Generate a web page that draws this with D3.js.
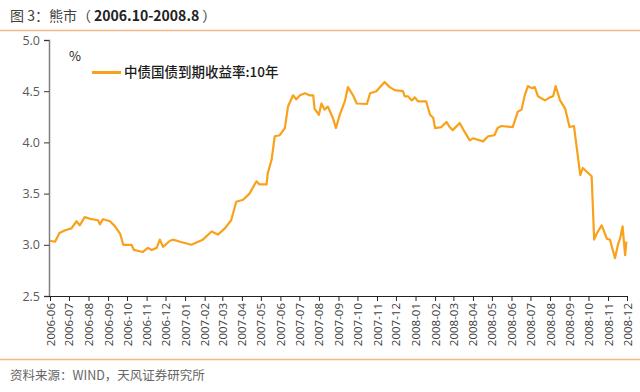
<!DOCTYPE html>
<html><head><meta charset="utf-8">
<script src="https://cdn.jsdelivr.net/npm/d3@7"></script>
<style>
html,body{margin:0;padding:0;background:#fff;}
svg{display:block;font-family:"Noto Sans CJK SC","Noto Sans",sans-serif;}
</style></head>
<body><svg id="c" width="640" height="392"></svg>
<script>
const titlePrefix = "图 3：熊市（ ";
const titleRange = "2006.10-2008.8";
const titleSuffix = " ）";
const sourceText = "资料来源：WIND，天风证券研究所";
const seriesName = "中债国债到期收益率:10年";
const unitLabel = "%";
const yTicks = [2.5, 3.0, 3.5, 4.0, 4.5, 5.0];
const dates = [
"2006-06-01","2006-06-09","2006-06-16","2006-06-24","2006-07-05","2006-07-13","2006-07-18","2006-07-26",
"2006-08-06","2006-08-16","2006-08-19","2006-08-24","2006-09-04","2006-09-12","2006-09-20","2006-09-25",
"2006-10-08","2006-10-12","2006-10-26","2006-11-03","2006-11-09","2006-11-17","2006-11-22","2006-11-27",
"2006-12-08","2006-12-13","2006-12-24","2007-01-11","2007-01-29","2007-02-12","2007-02-22","2007-03-05",
"2007-03-15","2007-03-23","2007-04-03","2007-04-13","2007-04-24","2007-04-29","2007-05-10","2007-05-12",
"2007-05-18","2007-05-23","2007-05-31","2007-06-08","2007-06-13","2007-06-21","2007-06-26","2007-07-02",
"2007-07-10","2007-07-17","2007-07-23","2007-07-25","2007-08-01","2007-08-05","2007-08-10","2007-08-15",
"2007-08-23","2007-08-28","2007-09-03","2007-09-11","2007-09-16","2007-09-24","2007-09-30","2007-10-16",
"2007-10-21","2007-10-31","2007-11-13","2007-11-21","2007-11-29","2007-12-12","2007-12-15","2007-12-20",
"2007-12-26","2007-12-31","2008-01-05","2008-01-18","2008-01-24","2008-01-29","2008-02-01","2008-02-11",
"2008-02-19","2008-02-24","2008-02-29","2008-03-11","2008-03-19","2008-03-27","2008-04-01","2008-04-17",
"2008-04-25","2008-05-05","2008-05-10","2008-05-16","2008-06-03","2008-06-11","2008-06-17","2008-06-22",
"2008-06-27","2008-07-03","2008-07-08","2008-07-13","2008-07-24","2008-08-01","2008-08-06","2008-08-10",
"2008-08-17","2008-08-25","2008-09-01","2008-09-08","2008-09-18","2008-09-22","2008-10-06","2008-10-10",
"2008-10-14","2008-10-22","2008-10-30","2008-11-04","2008-11-12","2008-11-17","2008-11-20","2008-11-24",
"2008-11-28","2008-11-30"];
const yields = [
3.04,3.03,3.115,3.14,3.16,3.23,3.19,3.27,
3.25,3.24,3.20,3.25,3.23,3.18,3.11,3.00,
3.00,2.95,2.93,2.97,2.95,2.97,3.05,2.98,
3.04,3.05,3.03,3.00,3.05,3.13,3.10,3.16,
3.24,3.42,3.44,3.50,3.62,3.59,3.59,3.70,
3.83,4.06,4.07,4.14,4.35,4.46,4.42,4.46,
4.48,4.46,4.46,4.33,4.27,4.38,4.32,4.35,
4.24,4.14,4.27,4.40,4.54,4.46,4.38,4.375,
4.48,4.50,4.59,4.54,4.51,4.50,4.45,4.45,
4.41,4.44,4.40,4.40,4.27,4.24,4.14,4.15,
4.20,4.15,4.12,4.19,4.10,4.02,4.04,4.01,
4.06,4.07,4.14,4.16,4.15,4.30,4.32,4.46,
4.55,4.53,4.54,4.45,4.41,4.44,4.45,4.55,
4.41,4.33,4.15,4.16,3.68,3.75,3.67,3.05,
3.11,3.19,3.06,3.05,2.87,3.01,3.06,3.18,
2.90,3.03];
const tickMonths = d3.timeMonths(new Date(2006,5,1), new Date(2008,11,2));

const svg = d3.select("#c");
const parse = d3.timeParse("%Y-%m-%d");
const data = dates.map((d,i)=>({d:parse(d), v:yields[i]}));

const L = 49, R = 627, T = 40, B = 296;
const x = d3.scaleTime().domain([new Date(2006,5,1), new Date(2008,11,1)]).range([L+1, R]);
const y = d3.scaleLinear().domain([2.5, 5.0]).range([B, T]);

// title
const tt = svg.append("text").attr("x",10).attr("y",21).attr("font-size",14).attr("fill","#404040");
tt.append("tspan").text(titlePrefix);
tt.append("tspan").attr("font-weight",600).attr("fill","#222").text(titleRange);
tt.append("tspan").text(titleSuffix);
svg.append("line").attr("x1",0).attr("x2",640).attr("y1",30.5).attr("y2",30.5).attr("stroke","#F2B889").attr("stroke-width",1.5);
svg.append("line").attr("x1",0).attr("x2",640).attr("y1",359.5).attr("y2",359.5).attr("stroke","#F2B889").attr("stroke-width",1.5);
svg.append("text").attr("x",10).attr("y",380).attr("font-size",12.5).attr("fill","#666").text(sourceText);

// y axis
const ya = svg.append("g").attr("transform",`translate(${L},0)`)
  .call(d3.axisLeft(y).tickValues(yTicks).tickFormat(d3.format(".1f")).tickSize(5).tickPadding(4));
ya.select(".domain").attr("stroke","#7f7f7f").attr("stroke-width",1.5);
ya.selectAll(".tick line").attr("stroke","#333");
ya.selectAll("text").attr("font-size",12.5).attr("fill","#595959").attr("font-family","'Open Sans','Noto Sans',sans-serif");

// x axis
const xa = svg.append("g").attr("transform",`translate(0,${B})`)
  .call(d3.axisBottom(x).tickValues(tickMonths).tickFormat(d3.timeFormat("%Y-%m")).tickSize(5).tickSizeOuter(0));
xa.select(".domain").attr("stroke","#222").attr("stroke-width",1.2).attr("d",`M${L},0.5H${R}`);
xa.selectAll(".tick line").attr("stroke","#222");
xa.selectAll("text").attr("font-size",11.5).attr("fill","#404040")
  .attr("font-family","'Open Sans','Noto Sans',sans-serif")
  .attr("transform","rotate(-90)").attr("text-anchor","end").attr("dy","0.35em").attr("x",-7).attr("y",0);

// line
svg.append("path").datum(data).attr("fill","none").attr("stroke","#F9A11B").attr("stroke-width",2.2)
  .attr("stroke-linejoin","round")
  .attr("d", d3.line().x(d=>x(d.d)).y(d=>y(d.v)));

// legend
svg.append("text").attr("x",69).attr("y",61).attr("font-size",13).attr("fill","#222").text(unitLabel);
svg.append("line").attr("x1",92).attr("x2",121).attr("y1",72.5).attr("y2",72.5).attr("stroke","#F9A11B").attr("stroke-width",3);
svg.append("text").attr("x",124).attr("y",77).attr("font-size",13.5).attr("font-weight",500).attr("fill","#1a1a1a").text(seriesName);
</script></body></html>
